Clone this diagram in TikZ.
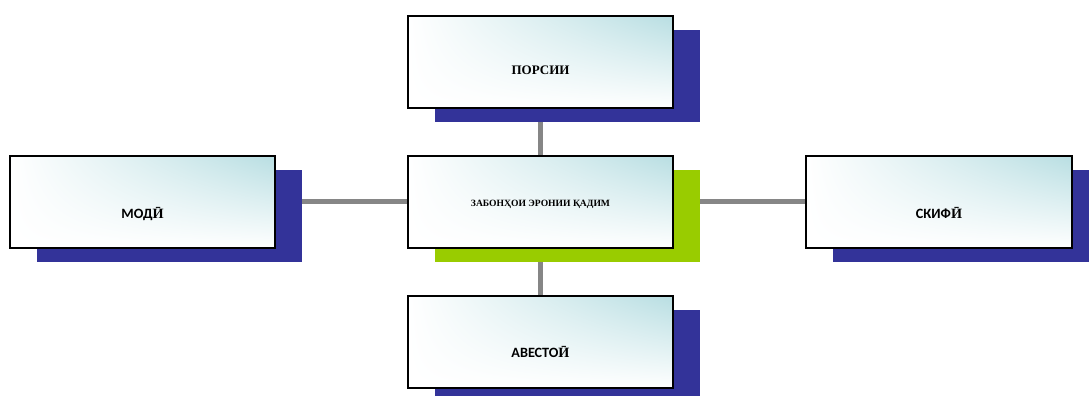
\documentclass[tikz,border=0pt]{standalone}
\usepackage{fontspec}
\setmainfont{Liberation Serif}
\newfontfamily\sansf{Carlito}
\usetikzlibrary{shadows,backgrounds,shadings}
\definecolor{navyshadow}{RGB}{51,51,153}
\definecolor{limeshadow}{RGB}{153,204,0}
\definecolor{tealtint}{RGB}{184,222,226}
\definecolor{linkgray}{RGB}{134,134,134}
\tikzset{
  boxbase/.style={draw=black, line width=1.6pt, minimum width=265.5pt, minimum height=92.5pt,
    inner sep=0pt, upper left=white, upper right=tealtint, lower left=white, lower right=white},
  navybox/.style={boxbase, general shadow={fill=navyshadow, shadow xshift=27pt, shadow yshift=-14pt}},
  limebox/.style={boxbase, general shadow={fill=limeshadow, shadow xshift=27pt, shadow yshift=-14pt}},
  link/.style={draw=linkgray, line width=5pt},
  serifbold/.style={font=\fontsize{13}{15}\selectfont\bfseries},
  sansbold/.style={font=\fontsize{14.2}{16}\selectfont\sansf\bfseries},
}
\begin{document}
\begin{tikzpicture}[x=1pt,y=1pt]
\useasboundingbox (0,0) rectangle (1089,396);
\node[navybox, label={[serifbold, yshift=-8pt]center:ПОРСИИ}] (top) at (540.5,334) {};
\node[limebox, label={[font=\fontsize{9.6}{11}\selectfont\bfseries, yshift=-2pt]center:ЗАБОНҲОИ ЭРОНИИ ҚАДИМ}] (mid) at (540.5,194) {};
\node[navybox, label={[sansbold, yshift=-12pt]center:МОД{\rmfamily Ӣ}}] (left) at (142.5,194) {};
\node[navybox, label={[sansbold, yshift=-11pt]center:СКИФ{\rmfamily Ӣ}}] (right) at (939,194) {};
\node[navybox, label={[sansbold, yshift=-10pt]center:АВЕСТО{\rmfamily Ӣ}}] (bottom) at (540.5,54) {};
\begin{scope}[on background layer]
\draw[link] (mid.center) -- (top.center);
\draw[link] (mid.center) -- (bottom.center);
\draw[link] (mid.center) -- (left.center);
\draw[link] (mid.center) -- (right.center);
\end{scope}
\end{tikzpicture}
\end{document}
